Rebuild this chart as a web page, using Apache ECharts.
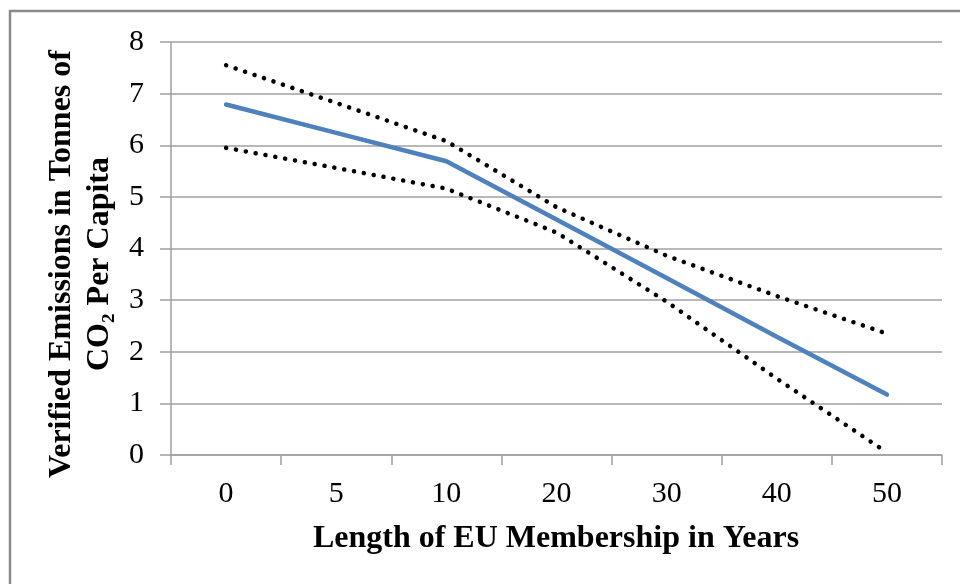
<!DOCTYPE html>
<html>
<head>
<meta charset="utf-8">
<script src="https://cdn.jsdelivr.net/npm/echarts@6/dist/echarts.min.js"></script>
<style>
html,body{margin:0;padding:0;background:#fff;}
#chart{width:960px;height:584px;}
</style>
</head>
<body>
<div id="chart"></div>
<script>
const categories = ['0', '5', '10', '20', '30', '40', '50'];
const predicted = [6.79, 6.24, 5.69, 4.56, 3.43, 2.29, 1.17];
const upperBound = [7.55, 6.82, 6.08, 4.80, 3.86, 3.08, 2.35];
const lowerBound = [5.95, 5.56, 5.16, 4.31, 2.97, 1.48, 0.05];
const yTicks = [0, 1, 2, 3, 4, 5, 6, 7, 8];
const xTitle = 'Length of EU Membership in Years';
const yTitle = 'Verified Emissions in Tonnes of\nCO\u2082 Per Capita';

const FONT = '"Liberation Serif", "Times New Roman", serif';
const chart = echarts.init(document.getElementById('chart'), null, {renderer: 'canvas'});
const dotted = {color: '#000', width: 4.5, type: [0.1, 9.9], cap: 'round'};
chart.setOption({
  animation: false,
  backgroundColor: '#fff',
  grid: {left: 171, top: 42, right: 18, bottom: 129, containLabel: false},
  xAxis: {
    type: 'category',
    data: categories,
    boundaryGap: true,
    axisLine: {lineStyle: {color: '#a0a0a0', width: 1.5}},
    axisTick: {show: true, length: 10, alignWithLabel: false, lineStyle: {color: '#a0a0a0', width: 1.5}},
    axisLabel: {fontFamily: FONT, fontSize: 30, color: '#000', margin: 24}
  },
  yAxis: {
    type: 'value',
    min: yTicks[0],
    max: yTicks[yTicks.length - 1],
    interval: 1,
    axisLine: {show: true, lineStyle: {color: '#a0a0a0', width: 1.5}},
    axisTick: {show: true, length: 11, inside: false, lineStyle: {color: '#a0a0a0', width: 1.5}},
    splitLine: {show: true, lineStyle: {color: '#a0a0a0', width: 1.5}},
    axisLabel: {fontFamily: FONT, fontSize: 30, color: '#000', margin: 27}
  },
  graphic: [
    {type: 'rect', shape: {x: 10, y: 11, width: 960, height: 600},
     style: {fill: 'none', stroke: '#8a8a8a', lineWidth: 2.5}, silent: true, z: -1},
    {type: 'text', x: 556, y: 539,
     style: {text: xTitle, font: 'bold 32px ' + FONT, fill: '#000', align: 'center', verticalAlign: 'middle'}},
    {type: 'text', x: 81, y: 264, rotation: Math.PI / 2,
     style: {text: yTitle, font: 'bold 32px ' + FONT, fill: '#000', align: 'center', verticalAlign: 'middle', lineHeight: 38}}
  ],
  series: [
    {type: 'line', data: upperBound, symbol: 'none', lineStyle: dotted, z: 3},
    {type: 'line', data: lowerBound, symbol: 'none', lineStyle: dotted, z: 3},
    {type: 'line', data: predicted, symbol: 'none', lineStyle: {color: '#4F81BD', width: 4.5, cap: 'round'}, z: 4}
  ]
});
</script>
</body>
</html>
